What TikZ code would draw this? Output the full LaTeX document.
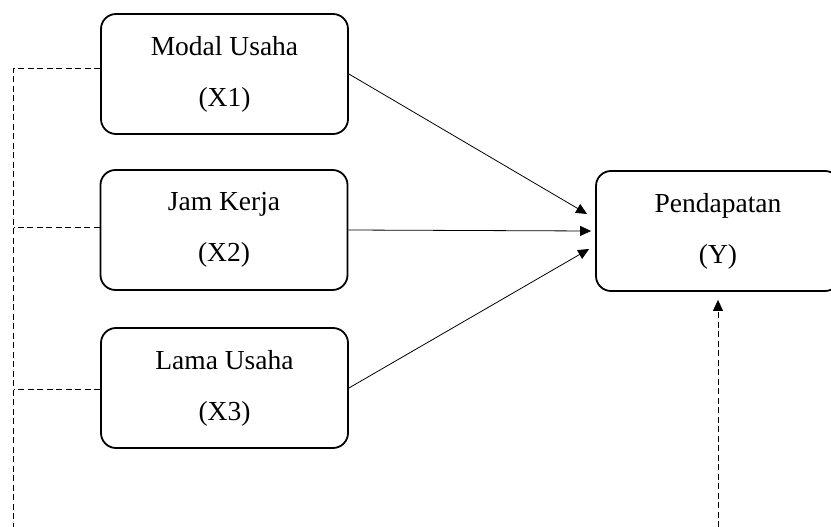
\documentclass[tikz,border=0pt]{standalone}
\usepackage{fontspec}
\setmainfont{Liberation Serif}
\usetikzlibrary{arrows.meta}
\begin{document}
\begin{tikzpicture}[x=1pt,y=-1pt,
  varbox/.style={draw, line width=1.8pt, rounded corners=15pt, align=center,
    inner sep=0pt, minimum width=247pt, minimum height=120pt,
    font=\fontsize{27.5}{51}\selectfont},
  tip/.style={-{Triangle[length=11pt,width=10pt]}},
  path/.style={line width=0.8pt, tip},
  dline/.style={line width=0.8pt, dash pattern=on 6pt off 3.5pt}]
\useasboundingbox (0,0) rectangle (831,527);

% variables
\node[varbox] (x1) at (224.5,74) {Modal Usaha\\(X1)};
\node[varbox] (x2) at (224,230) {Jam Kerja\\(X2)};
\node[varbox] (x3) at (224.5,388) {Lama Usaha\\(X3)};
\node[varbox, minimum width=244pt] (y) at (718,231) {Pendapatan\\(Y)};

% direct effects
\draw[path] (x1.east) -- ([shift={(-8,-17)}]y.west);
\draw[path] (x2.east) -- ([xshift=-4pt]y.west);
\draw[path] (x3.east) -- ([shift={(-6,18)}]y.west);

% joint effect (dashed bracket)
\coordinate (top) at (13.5,68);
\coordinate (bot) at (13.5,527);
\draw[dline] ([yshift=6pt]x1.west) -- (top) -- (bot);
\draw[dline] ([yshift=3pt]x2.west) -- ([yshift=3pt]x2.west -| top);
\draw[dline] ([yshift=-1pt]x3.west) -- ([yshift=-1pt]x3.west -| top);
\coordinate (ybot) at (718,527);
\draw[dline, tip] (ybot) -- ([yshift=-8pt]y.south);
\end{tikzpicture}
\end{document}
